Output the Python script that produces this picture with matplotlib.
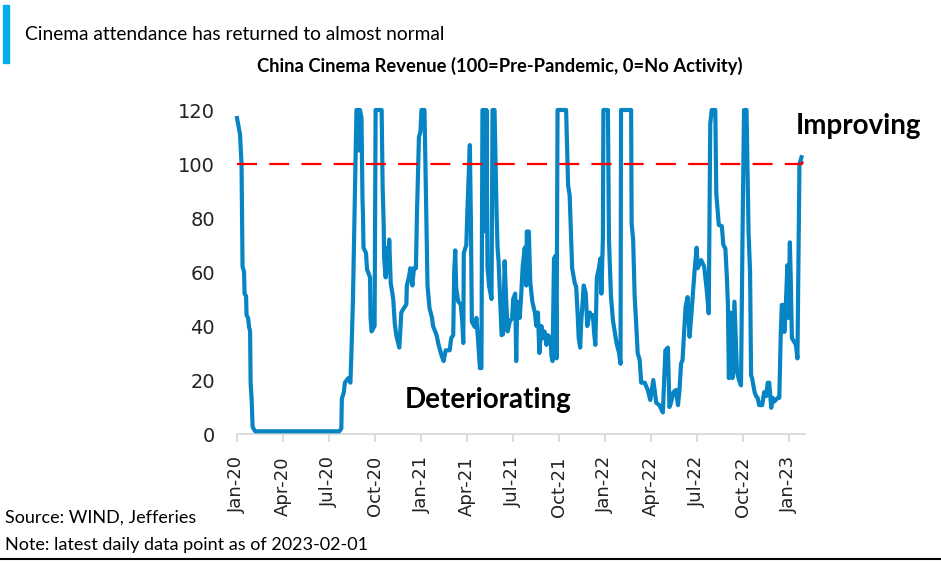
# China cinema revenue index chart
import numpy as np
import pandas as pd
import matplotlib.pyplot as plt
import matplotlib.dates as mdates

# data (days counted from 2020-01-01)
start = pd.Timestamp("2020-01-01")

days_2020 = [0, 6, 9, 11, 14, 15, 18, 19, 22, 24, 26, 27, 29, 31, 36, 203, 207, 208, 212, 214,
             221, 225, 227, 230, 234, 237, 240, 242, 244, 247, 249, 250, 251, 256, 258, 264, 265,
             267, 273, 275, 287, 289, 291, 292, 295, 298, 300, 302, 305, 310, 313, 316, 322, 324,
             326, 331, 336, 337, 341, 344, 348, 351, 355, 357, 361, 364]
vals_2020 = [117, 111, 100, 62, 60, 52, 51, 44, 43, 39.5, 38, 19, 13, 2.6, 1, 1, 2, 13, 15.5, 19,
             20.7, 19, 30, 49, 90, 120, 120, 105, 120, 117, 87, 81, 69, 67, 61, 58, 43,
             38, 40, 120, 120, 91, 78, 65, 58, 69, 60, 72, 56, 50, 41, 36.6, 32, 38,
             45, 46.6, 48, 55, 58, 61.4, 55, 61.4, 61.4, 81, 110, 112]

days_2021 = [366, 372, 376, 378, 382, 387, 389, 396, 400, 406, 410, 414, 422, 425, 429, 431, 433,
             435, 439, 444, 447, 449, 450, 455, 457, 462, 464, 466, 472, 475, 478, 482, 485, 487,
             491, 493, 495, 497, 500, 505, 507, 511, 515, 517, 519, 525, 528, 531, 534, 537, 541,
             546, 548, 552, 554, 556, 561, 564, 567, 571, 574, 575, 579, 582, 586, 591, 594, 597,
             600, 604, 607, 610, 614, 617, 622, 624, 626, 629, 632, 634, 636, 653, 657, 660, 663,
             665, 670, 673, 676, 678, 681, 683, 688, 692, 695, 700, 703, 706, 709, 711, 714, 718,
             721, 723, 726, 727]
vals_2021 = [120, 120, 78, 55, 46.6, 43, 40, 36.6, 33, 29, 27, 31, 31, 35.5, 36.6, 60, 68,
             54, 49, 48, 41.5, 33.7, 67, 70, 82, 107, 80, 41.5, 39.6, 43, 35.5, 24.4, 24.4, 120,
             120, 75, 120, 62, 55, 50, 120, 120, 82, 69, 64, 36.6, 37, 64, 50, 38, 41.5,
             43, 50, 52, 27, 49, 43, 52, 62.5, 69, 55, 75, 75, 56, 49, 45, 40, 45,
             30, 40, 35.5, 38, 33, 36.6, 35.5, 29, 27, 65, 66, 28, 120, 120, 92, 88.5, 72.6,
             61.4, 56, 54.5, 44, 35.5, 32, 41.5, 55, 52, 40, 45, 44, 44, 36.6, 33, 58, 61.4,
             65, 52, 72.6, 120]

days_2022 = [736, 738, 742, 746, 753, 758, 761, 762, 782, 783, 786, 789, 792, 795, 799, 802, 809,
             815, 820, 826, 832, 838, 845, 850, 855, 858, 861, 866, 871, 875, 878, 881, 884, 890,
             894, 898, 901, 908, 912, 914, 921, 927, 932, 936, 939, 942, 949, 951, 956, 962, 965,
             969, 972, 974, 976, 979, 983, 987, 992, 996, 1000, 1003, 1006, 1011, 1015, 1018,
             1020, 1022, 1027, 1030, 1033, 1036, 1042, 1046, 1050, 1053, 1056, 1060, 1063, 1066,
             1073, 1076, 1079, 1081, 1084, 1086, 1089, 1092, 1094, 1097, 1099, 1101, 1106, 1109,
             1112, 1116, 1120]
vals_2022 = [120, 72, 51, 42, 33.7, 30, 26, 120, 120, 78, 72, 51, 41, 30, 27.4, 19, 19,
             16.3, 12.6, 20, 11.5, 10.7, 8, 31, 32, 10, 11.5, 15.5, 16.3, 10.7, 16.3, 26, 27.4, 47,
             50.7, 36, 43, 60.7, 69, 61.4, 64.4, 62, 53.3, 44.7, 115, 120, 120, 89, 77.4, 77, 70,
             68.7, 58, 48, 20.7, 45, 20.7, 49, 23, 20, 18, 72.6, 120, 120, 74.8, 60,
             21.8, 20.7, 15.5, 14, 13.4, 10.7, 10.7, 15.5, 14, 19, 19, 9.7, 13.4, 12,
             13.4, 13.4, 37.8, 47.8, 47.8, 37.8, 47.8, 62.5, 43, 71, 55, 35.5, 34, 33,
             28, 100, 102.5]

ref_dates = ["2020-01-01", "2023-01-26", "2023-02-01"]
ref_vals = [100, 100, 103]

days = np.array(days_2020 + days_2021 + days_2022)
vals = np.array(vals_2020 + vals_2021 + vals_2022)
dates = start + pd.to_timedelta(days, unit="D")

fig = plt.figure(figsize=(9.41, 5.62), dpi=100)
ax = fig.add_axes([237/941, 1-434/562, (805-237)/941, (434-110)/562])

ax.plot(dates, vals, color="#0784c3", lw=3.0, clip_on=False, zorder=3)
ax.plot(pd.to_datetime(ref_dates), ref_vals, color="#ff0000", lw=1.6,
        linestyle=(0, (9, 5.5)), zorder=4, clip_on=False)

ax.set_ylim(0, 120)
ax.set_xlim(start, pd.Timestamp("2023-02-01"))
ax.set_yticks(range(0, 121, 20))
ax.xaxis.set_major_locator(mdates.MonthLocator(bymonth=[1, 4, 7, 10]))
ax.xaxis.set_major_formatter(mdates.DateFormatter("%b-%y"))

for s in ["top", "right", "left"]:
    ax.spines[s].set_visible(False)
ax.spines["bottom"].set_color("#d9d9d9")
ax.spines["bottom"].set_linewidth(1.3)
ax.tick_params(axis="x", colors="#d9d9d9", length=6, width=1.3, pad=10,
               labelcolor="#222222", labelsize=13, labelrotation=90)
ax.tick_params(axis="y", length=0, pad=16, labelsize=14, labelcolor="#222222")

# annotations
fig.text(796/941, 1-126/562, "Improving", fontsize=20, fontweight="bold", family="Lato",
         ha="left", va="center")
fig.text(405/941, 1-400/562, "Deteriorating", fontsize=20, fontweight="bold", family="Lato",
         ha="left", va="center")

# header
fig.patches.append(plt.Rectangle((3/941, 1-63/562), 6/941, 58/562, color="#00aeef",
                                 transform=fig.transFigure))
fig.text(25/941, 1-34/562, "Cinema attendance has returned to almost normal", fontsize=13.8,
         family="Lato", ha="left", va="center")
fig.text(500/941, 1-66/562, "China Cinema Revenue (100=Pre-Pandemic, 0=No Activity)",
         fontsize=13.2, fontweight="bold", family="Lato", ha="center", va="center")

# footer
fig.text(5/941, 1-518/562, "Source: WIND, Jefferies", fontsize=13, family="Lato",
         ha="left", va="center")
fig.text(5/941, 1-545/562, "Note: latest daily data point as of 2023-02-01", fontsize=13,
         family="Lato", ha="left", va="center")
fig.add_artist(plt.Line2D([0, 1], [1-559/562, 1-559/562], color="black", lw=1.5,
                          transform=fig.transFigure))

plt.savefig("out.png", dpi=100)
